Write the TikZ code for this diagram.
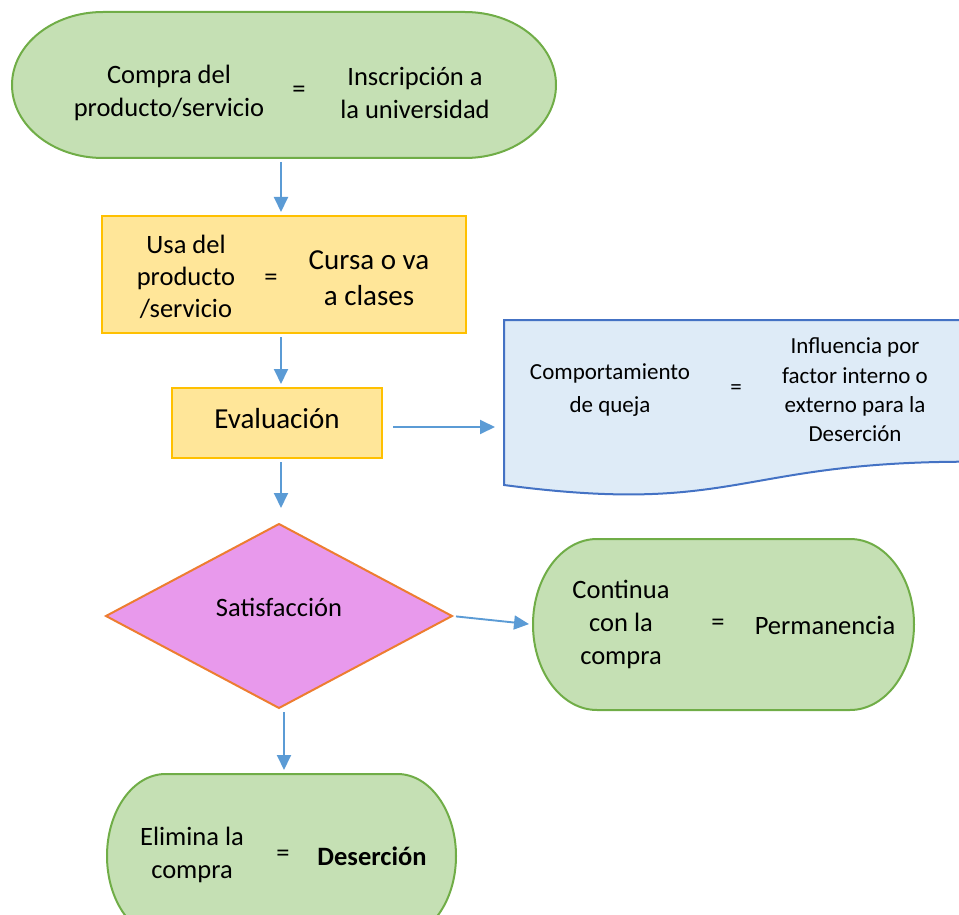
\documentclass[tikz,border=0pt]{standalone}
\usepackage{fontspec}
\setmainfont{Carlito}
\usetikzlibrary{shapes.geometric,arrows.meta}

\definecolor{verde}{HTML}{C5E0B4}
\definecolor{verdeborde}{HTML}{70AD47}
\definecolor{amarillo}{HTML}{FFE699}
\definecolor{amarilloborde}{HTML}{FFC000}
\definecolor{celeste}{HTML}{DEEBF7}
\definecolor{azulborde}{HTML}{4472C4}
\definecolor{rosa}{HTML}{E899EC}
\definecolor{naranja}{HTML}{ED7D31}
\definecolor{flecha}{HTML}{5B9BD5}

% terminal shape: node, x radius, y radius
\newcommand{\terminal}[3]{%
  \draw[line width=2pt, draw=verdeborde, fill=verde]
    ([xshift=#2]#1.north west) -- ([xshift=-#2]#1.north east)
    arc[start angle=90, end angle=-90, x radius=#2, y radius=#3]
    -- ([xshift=#2]#1.south west)
    arc[start angle=270, end angle=90, x radius=#2, y radius=#3] -- cycle;}

\begin{document}
\begin{tikzpicture}
  [x=1pt,y=1pt,
   forma/.style={draw=none,inner sep=0,outer sep=0},
   caja/.style={rectangle,line width=2pt,draw=amarilloborde,fill=amarillo,inner sep=0,outer sep=0},
   txt/.style={align=center,inner sep=0,font=\fontsize{26.5}{33}\selectfont},
   grande/.style={align=center,inner sep=0,font=\fontsize{29}{36}\selectfont},
   chico/.style={align=center,inner sep=0,font=\fontsize{23}{29.3}\selectfont},
   flujo/.style={line width=1.9pt,draw=flecha,-{Triangle[length=15pt,width=14pt]},shorten <=4pt,shorten >=4pt}]
  \useasboundingbox (0,0) rectangle (959,-915);
  \clip (0,0) rectangle (959,-915);

  % formas
  \node[forma,minimum width=544,minimum height=146] (compra) at (284,-85) {};
  \terminal{compra}{91}{73}
  \node[caja,minimum width=364,minimum height=117] (usa) at (284,-274.5) {};
  \node[caja,minimum width=210,minimum height=70] (eval) at (277,-423) {};
  \node[forma,minimum width=464,minimum height=176.7] (queja) at (736,-408.4) {};
  \draw[line width=2pt,draw=azulborde,fill=celeste]
    (504,-320) -- (968,-320) -- (968,-461.7)
    .. controls (736,-461.7) and (736,-515.7) .. (504,-485) -- cycle;
  \node[diamond,line width=2pt,draw=naranja,fill=rosa,inner sep=0,outer sep=0,
        minimum width=346,minimum height=184] (satis) at (279,-616) {};
  \node[forma,minimum width=381,minimum height=171] (continua) at (723.5,-624.5) {};
  \terminal{continua}{64}{85.5}
  \node[forma,minimum width=349,minimum height=164] (elimina) at (281.5,-856) {};
  \terminal{elimina}{58.5}{82}

  % textos
  \node[txt] (compraA) at (169,-93) {Compra del\\producto/servicio};
  \node[txt] (compraI) at (299,-92) {=};
  \node[txt] (compraB) at (415,-93) {Inscripción a\\la universidad};

  \node[txt,font=\fontsize{26.5}{32}\selectfont] (usaA) at (186,-277) {Usa del\\producto\\/servicio};
  \node[txt] (usaI) at (271,-280) {=};
  \node[grande] (usaB) at (369,-278) {Cursa o va\\a clases};

  \node[grande] (evalA) at (277,-419) {Evaluación};

  \node[chico,font=\fontsize{23}{33}\selectfont] (quejaA) at (610,-390) {Comportamiento\\de queja};
  \node[chico] (quejaI) at (736,-390) {=};
  \node[chico] (quejaB) at (855,-390) {Influencia por\\factor interno o\\externo para la\\Deserción};

  \node[txt] (satisA) at (279,-607) {Satisfacción};

  \node[txt] (continuaA) at (621,-624) {Continua\\con la\\compra};
  \node[txt] (continuaI) at (718,-625) {=};
  \node[txt] (continuaB) at (825,-625) {Permanencia};

  \node[txt] (eliminaA) at (192,-855) {Elimina la\\compra};
  \node[txt] (eliminaI) at (283,-856) {=};
  \node[txt] (eliminaB) at (372,-856) {\textbf{Deserción}};

  % flechas
  \draw[flujo] ([xshift=-3]compra.south) -- ([xshift=-3]compra.south |- usa.north);
  \draw[flujo] ([xshift=-3]usa.south) -- ([xshift=-3]usa.south |- eval.north);
  \draw[flujo,shorten <=11pt,shorten >=9pt] ([yshift=-4]eval.east) -- ([yshift=-4]eval.east -| queja.west);
  \draw[flujo,shorten >=16pt] ([xshift=4]eval.south) -- ([xshift=4]eval.south |- satis.north);
  \draw[flujo] (satis.east) -- (continua.west);
  \draw[flujo] ([xshift=5]satis.south) -- ([xshift=5]satis.south |- elimina.north);
\end{tikzpicture}
\end{document}
